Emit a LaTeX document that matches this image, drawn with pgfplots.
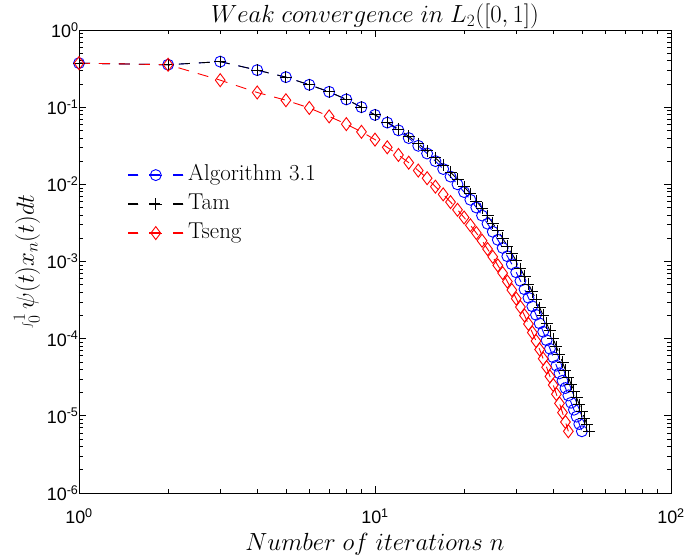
\documentclass[border=0pt]{standalone}
\usepackage{fontspec}
\usepackage{pgfplots}
\pgfplotsset{compat=1.18}
\newfontfamily\arial{Liberation Sans}

\pgfplotstableread{
n  y
1  0.372
2  0.355
3  0.389
4  0.302
5  0.245
6  0.195
7  0.158
8  0.126
9  0.100
10 0.0794
11 0.0631
12 0.0501
13 0.0398
14 0.0316
15 0.0251
16 0.0200
17 0.0158
18 0.0126
19 0.0100
20 0.00794
21 0.00631
22 0.00501
23 0.00394
24 0.00309
25 0.00243
26 0.00191
27 0.00150
28 0.00117
29 0.000923
30 0.000724
31 0.000562
32 0.000437
33 0.000339
34 0.000263
35 0.000204
36 0.000158
37 0.000123
38 9.55e-5
39 7.41e-5
40 5.75e-5
41 4.47e-5
42 3.55e-5
43 2.85e-5
44 2.29e-5
45 1.84e-5
46 1.48e-5
47 1.20e-5
48 9.77e-6
49 7.85e-6
50 6.31e-6
}\algdata

\pgfplotstableread{
n  y
1  0.372
2  0.355
3  0.389
4  0.302
5  0.245
6  0.195
7  0.158
8  0.126
9  0.100
10 0.0794
11 0.0641
12 0.0518
13 0.0418
14 0.0337
15 0.0272
16 0.0220
17 0.0177
18 0.0143
19 0.0116
20 0.00933
21 0.00753
22 0.00608
23 0.00491
24 0.00392
25 0.00313
26 0.00250
27 0.00200
28 0.00159
29 0.00127
30 0.00102
31 0.000811
32 0.000644
33 0.000509
34 0.000404
35 0.000319
36 0.000253
37 0.000200
38 0.000158
39 0.000126
40 9.93e-5
41 7.87e-5
42 6.24e-5
43 4.94e-5
44 3.91e-5
45 3.14e-5
46 2.56e-5
47 2.10e-5
48 1.71e-5
49 1.40e-5
50 1.15e-5
51 9.38e-6
52 7.67e-6
53 6.31e-6
}\tamdata

\pgfplotstableread{
n  y
1  0.372
2  0.355
3  0.224
4  0.155
5  0.123
6  0.0977
7  0.0759
8  0.0603
9  0.0479
10 0.0380
11 0.0302
12 0.0240
13 0.0191
14 0.0151
15 0.0120
16 0.00933
17 0.00741
18 0.00589
19 0.00468
20 0.00372
21 0.00295
22 0.00234
23 0.00186
24 0.00145
25 0.00115
26 0.000891
27 0.000708
28 0.000550
29 0.000427
30 0.000331
31 0.000257
32 0.000200
33 0.000155
34 0.000120
35 9.33e-5
36 7.24e-5
37 5.50e-5
38 4.27e-5
39 3.24e-5
40 2.51e-5
41 1.91e-5
42 1.45e-5
43 1.10e-5
44 8.32e-6
45 6.31e-6
}\tsengdata

% legend sample: three short dashes (filled bars) with the marker on the middle one
\pgfplotsset{
    mylegend/.style n args={3}{
        legend image code/.code={
            \fill[fill=#1] (0bp,-0.5bp) rectangle (9bp,0.5bp);
            \fill[fill=#1] (21bp,-0.5bp) rectangle (33bp,0.5bp);
            \fill[fill=#1] (45bp,-0.5bp) rectangle (54bp,0.5bp);
            \draw[draw=#1, line width=0.9bp, solid] plot[mark=#2, mark size=#3] coordinates {(27bp,0bp)};
        }
    }
}

\begin{document}
\begin{tikzpicture}
\begin{axis}[
    name=ax,
    scale only axis,
    width=592bp, height=463bp,
    xmode=log, ymode=log,
    xmin=1, xmax=100, ymin=1e-6, ymax=1,
    axis line style={line width=0.8bp},
    xtick={1,10,100},
    xticklabels={10\textsuperscript{0},10\textsuperscript{1},10\textsuperscript{2}},
    minor xtick={2,3,4,5,6,7,8,9,20,30,40,50,60,70,80,90},
    ytick={1e-6,1e-5,1e-4,1e-3,1e-2,1e-1,1},
    yticklabels={10\textsuperscript{-6},10\textsuperscript{-5},10\textsuperscript{-4},10\textsuperscript{-3},10\textsuperscript{-2},10\textsuperscript{-1},10\textsuperscript{0}},
    minor ytick={2e-6,3e-6,4e-6,5e-6,6e-6,7e-6,8e-6,9e-6,
                 2e-5,3e-5,4e-5,5e-5,6e-5,7e-5,8e-5,9e-5,
                 2e-4,3e-4,4e-4,5e-4,6e-4,7e-4,8e-4,9e-4,
                 2e-3,3e-3,4e-3,5e-3,6e-3,7e-3,8e-3,9e-3,
                 2e-2,3e-2,4e-2,5e-2,6e-2,7e-2,8e-2,9e-2,
                 0.2,0.3,0.4,0.5,0.6,0.7,0.8,0.9},
    tick align=inside,
    major tick length=7bp,
    minor tick length=4bp,
    tick style={black, line width=0.7bp},
    tick label style={font=\arial\fontsize{18}{20}\selectfont},
    xticklabel style={yshift=-12bp},
    yticklabel style={xshift=3bp},
    every axis title shift=0pt,
    title={$Weak\ convergence\ in\ L_2([0,1])$},
    title style={font=\fontsize{23}{27}\selectfont, at={(0.5,1)}, anchor=south, inner sep=1bp},
    xlabel={$Number\ of\ iterations\ n$},
    xlabel style={font=\fontsize{23}{27}\selectfont, yshift=-3bp},
    ylabel={$\int_0^1 \psi(t) x_n(t) dt$},
    ylabel style={font=\fontsize{24}{28}\selectfont},
    legend style={at={(0.083,0.624)}, anchor=west, draw=none, fill=none,
        font=\fontsize{23}{27}\selectfont, inner sep=0pt, row sep=6.5bp,
        nodes={text height=16bp, text depth=4.5bp, inner ysep=1bp, inner xsep=5bp}},
    legend cell align=left,
    every axis plot/.append style={line width=0.9bp, dash pattern=on 11bp off 9bp},
]
\addplot[color=blue, mark=o, mark size=5.5bp, mark options={solid},
    mylegend={blue}{o}{5.5bp}] table[x=n, y=y] {\algdata};
\addplot[color=black, mark=+, mark size=6bp, mark options={solid},
    mylegend={black}{+}{6bp}] table[x=n, y=y] {\tamdata};
\addplot[color=red, mark=diamond, mark size=6.5bp, mark options={solid},
    mylegend={red}{diamond}{6.5bp}] table[x=n, y=y] {\tsengdata};
\legend{Algorithm 3.1, Tam, Tseng}
\end{axis}
\path (ax.south west) ++(-79bp,-65bp) coordinate (bl);
\path (ax.north east) ++(14bp,30bp) coordinate (tr);
\pgfresetboundingbox
\useasboundingbox (bl) rectangle (tr);
\end{tikzpicture}
\end{document}
